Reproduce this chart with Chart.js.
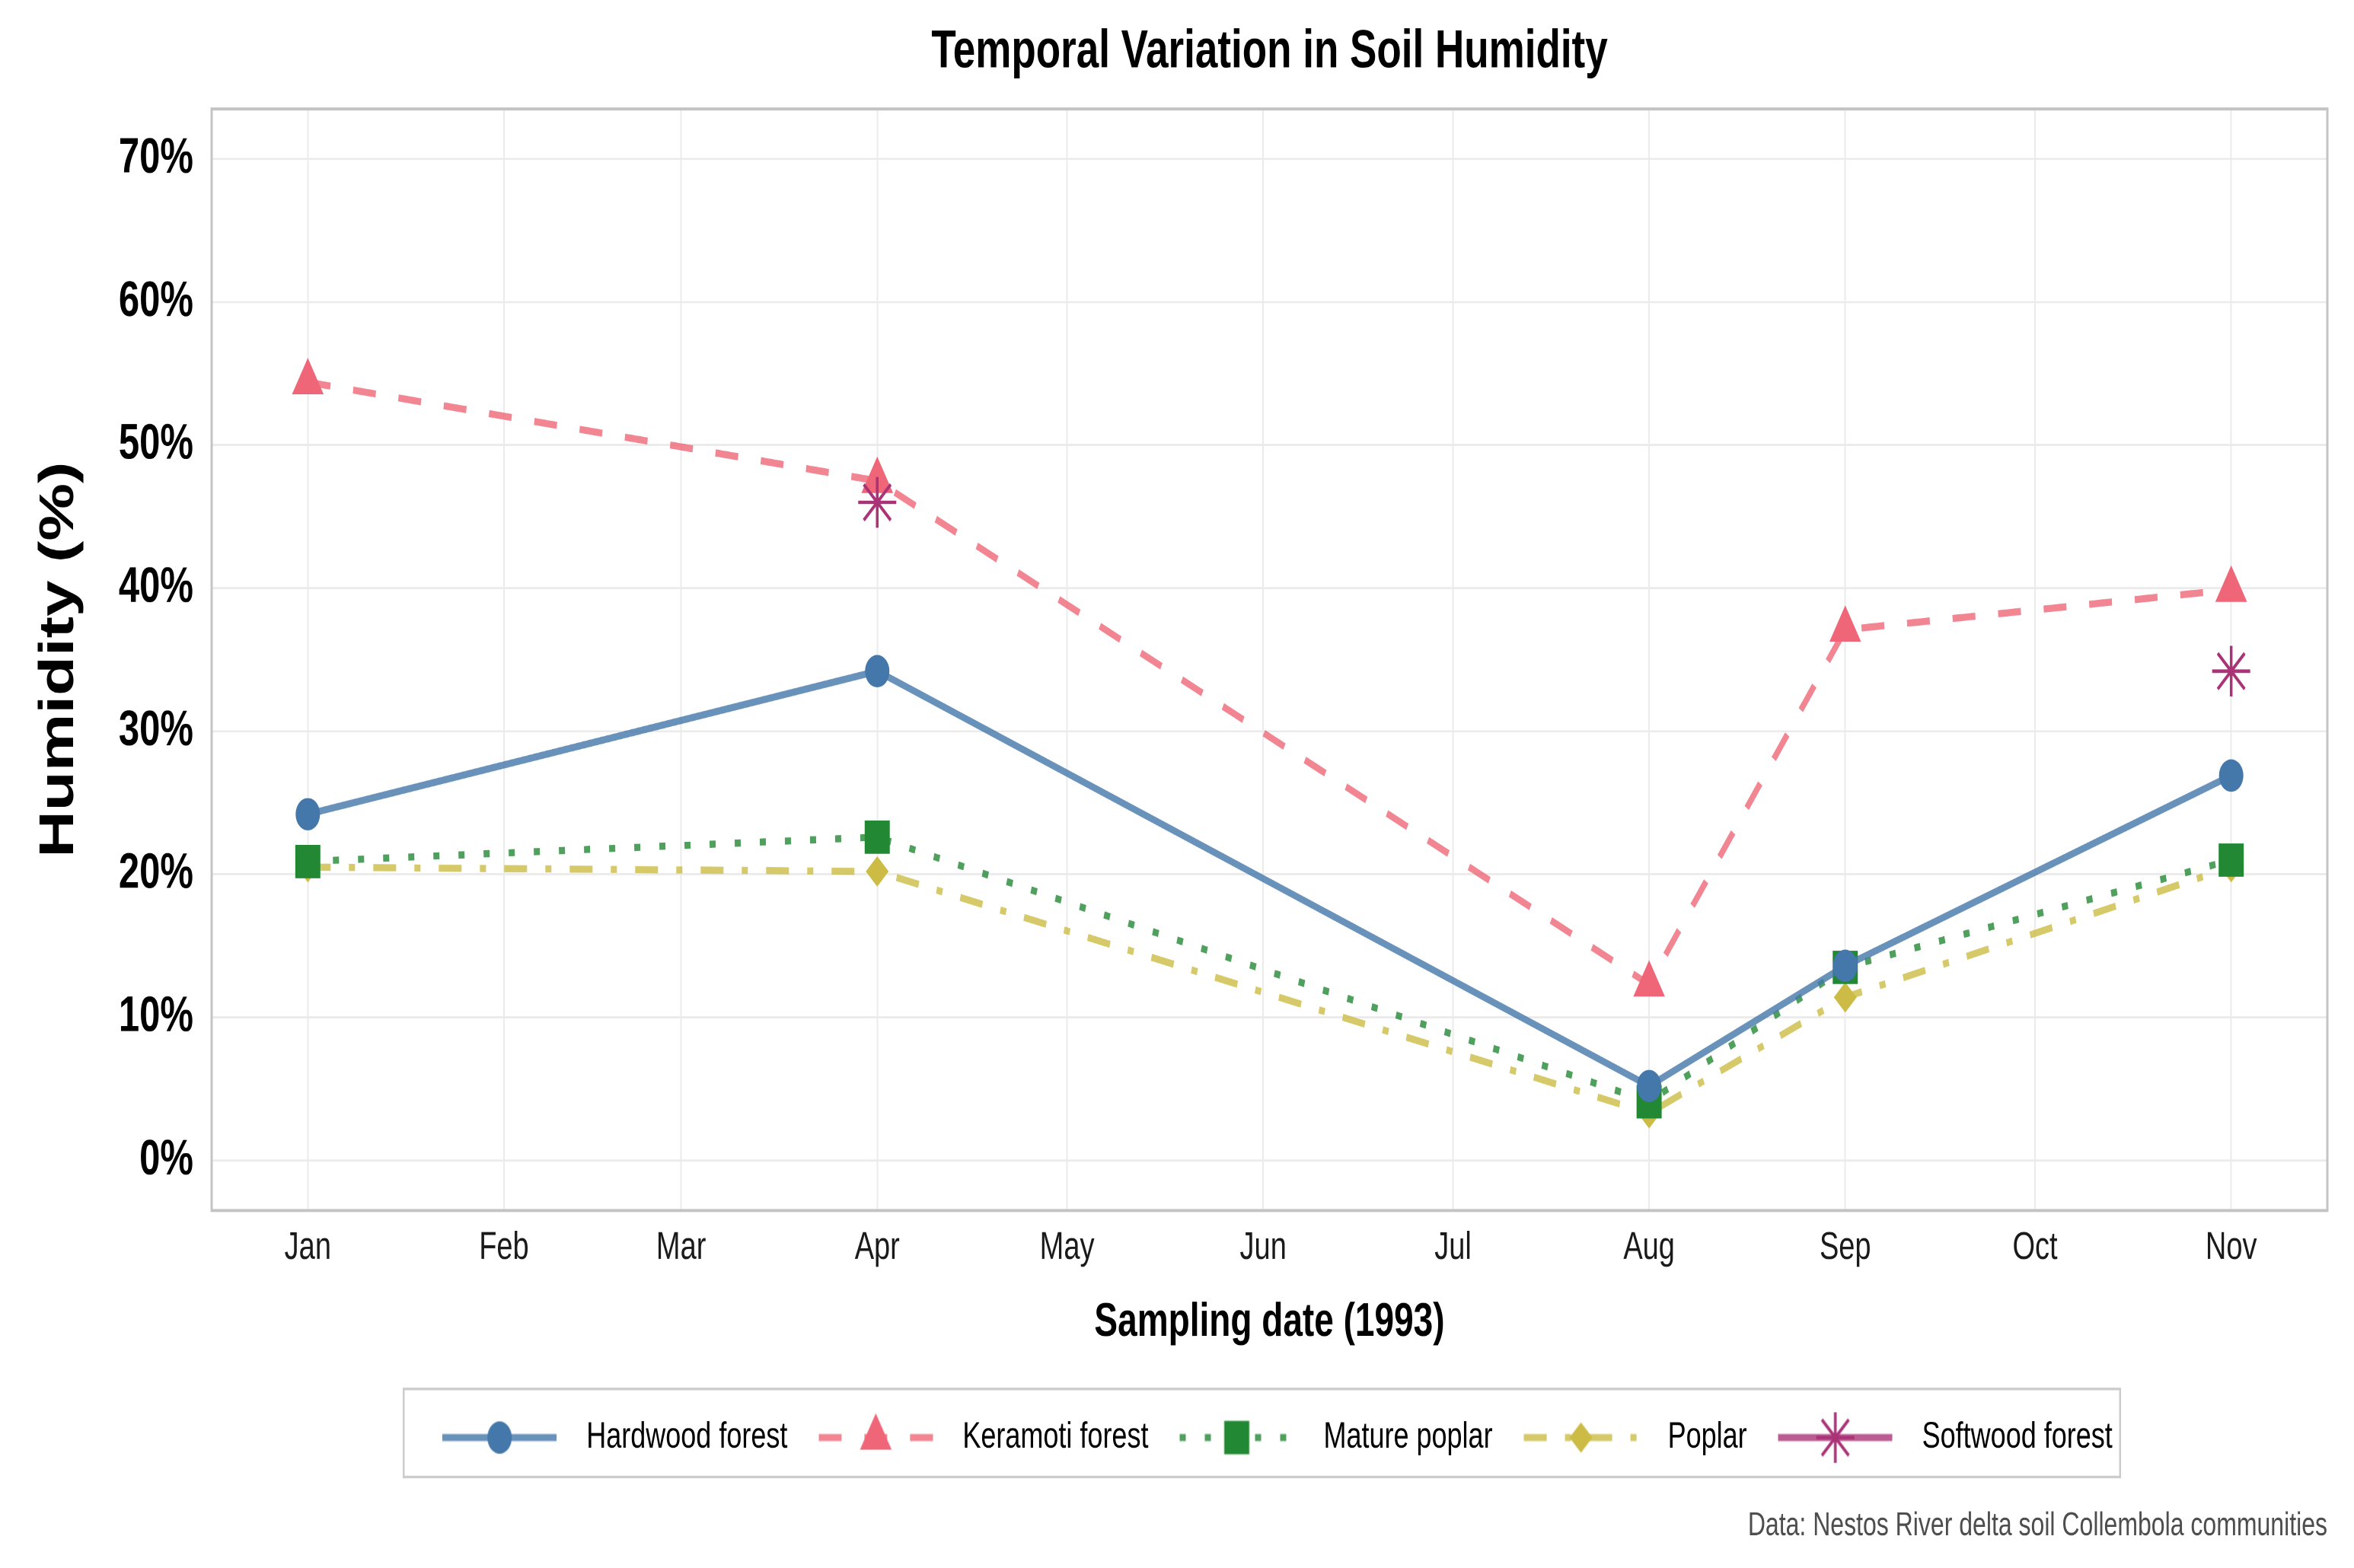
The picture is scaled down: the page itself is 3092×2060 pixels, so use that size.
<!DOCTYPE html>
<html>
<head>
<meta charset="utf-8">
<title>Temporal Variation in Soil Humidity</title>
<script src="https://cdn.jsdelivr.net/npm/chart.js@4.4.1/dist/chart.umd.min.js"></script>
<style>
  html, body { margin: 0; padding: 0; background: #fff; width: 3092px; height: 2060px; overflow: hidden; }
  /* the reference picture is stretched vertically, so the chart is drawn flat and scaled up */
  #wrap { position: absolute; left: 0; top: 0; width: 3092px; height: 1549px; transform: scaleY(1.3299); transform-origin: 0 0; }
</style>
</head>
<body>
<div id="wrap"><canvas id="humidityChart" width="3092" height="1549"></canvas></div>
<script>
// x axis: day of year 1993 (0 = 1 Jan)
const monthDays = [0, 31, 59, 90, 120, 151, 181, 212, 243, 273, 304];
const monthLabels = ['Jan', 'Feb', 'Mar', 'Apr', 'May', 'Jun', 'Jul', 'Aug', 'Sep', 'Oct', 'Nov'];
const sampleDays = [0, 90, 212, 243, 304]; // Jan, Apr, Aug, Sep, Nov
const yTicks = [0, 10, 20, 30, 40, 50, 60, 70];

// humidity (%) per sampling date
const hardwood = [24.2, 34.2, 5.2, 13.6, 26.9];
const keramoti = [54.4, 47.5, 12.3, 37.1, 39.9];
const maturePoplar = [20.9, 22.6, 4.1, 13.5, 21.0];
const poplar = [20.5, 20.2, 3.3, 11.4, 20.5];
const softwood = [null, 46.0, null, null, 34.2];

const FONT = "'Liberation Sans', Arial, sans-serif";
Chart.defaults.font.family = FONT;
Chart.defaults.color = '#1a1a1a';

function points(values) {
  return sampleDays.map((d, i) => ({ x: d, y: values[i] }));
}

function drawMarker(ctx, style, r, color, x, y) {
  ctx.fillStyle = color;
  ctx.strokeStyle = color;
  ctx.beginPath();
  if (style === 'circle') {
    ctx.arc(x, y, r, 0, Math.PI * 2);
    ctx.fill();
  } else if (style === 'triangle') {
    ctx.moveTo(x, y - r);
    ctx.lineTo(x + r * Math.sin(2 * Math.PI / 3), y + r / 2);
    ctx.lineTo(x - r * Math.sin(2 * Math.PI / 3), y + r / 2);
    ctx.closePath();
    ctx.fill();
  } else if (style === 'rect') {
    const s = r * Math.SQRT1_2;
    ctx.rect(x - s, y - s, 2 * s, 2 * s);
    ctx.fill();
  } else if (style === 'rectRot') {
    ctx.moveTo(x - r, y); ctx.lineTo(x, y - r); ctx.lineTo(x + r, y); ctx.lineTo(x, y + r);
    ctx.closePath();
    ctx.fill();
  } else if (style === 'star') {
    ctx.lineWidth = 3.5;
    for (let k = 0; k < 4; k++) {
      const a = k * Math.PI / 4;
      ctx.moveTo(x - Math.sin(a) * r, y - Math.cos(a) * r);
      ctx.lineTo(x + Math.sin(a) * r, y + Math.cos(a) * r);
    }
    ctx.stroke();
  }
}

const series = [
  { label: 'Hardwood forest', values: hardwood, color: '#4477AA', line: 'rgba(68,119,170,0.8)', dash: [], style: 'circle', r: 16, order: 1 },
  { label: 'Keramoti forest', values: keramoti, color: '#EE6677', line: 'rgba(238,102,119,0.8)', dash: [30, 30], style: 'triangle', r: 24, order: 2 },
  { label: 'Mature poplar', values: maturePoplar, color: '#228833', line: 'rgba(34,136,51,0.8)', dash: [8, 25], style: 'rect', r: 23.3, order: 3 },
  { label: 'Poplar', values: poplar, color: '#CCBB44', line: 'rgba(204,187,68,0.8)', dash: [30, 24, 8, 24], style: 'rectRot', r: 15, order: 4 },
  { label: 'Softwood forest', values: softwood, color: '#AA3377', line: 'rgba(170,51,119,0.8)', dash: [], style: 'star', r: 25, order: 0 }
];

// legend symbols: a short piece of line with the marker on top
const legendSymbols = series.map((s) => {
  const c = document.createElement('canvas');
  c.width = 150; c.height = 56;
  const ctx = c.getContext('2d');
  ctx.strokeStyle = s.line;
  ctx.lineWidth = 7;
  ctx.setLineDash(s.dash);
  ctx.beginPath(); ctx.moveTo(0, 28); ctx.lineTo(150, 28); ctx.stroke();
  ctx.setLineDash([]);
  drawMarker(ctx, s.style, s.r, s.color, 75, 28);
  return c;
});

const frame = {
  id: 'frame',
  afterDraw(chart) {
    const { ctx, chartArea: a, legend } = chart;
    ctx.save();
    ctx.strokeStyle = '#c4c4c4';
    ctx.lineWidth = 3;
    ctx.strokeRect(a.left, a.top, a.right - a.left, a.bottom - a.top);
    if (legend && legend.legendHitBoxes.length) {
      const boxes = legend.legendHitBoxes;
      const x0 = Math.min(...boxes.map((b) => b.left)) - 30;
      const x1 = Math.max(...boxes.map((b) => b.left + b.width)) + 10;
      const cy = boxes[0].top + boxes[0].height / 2;
      ctx.strokeStyle = '#cccccc';
      ctx.lineWidth = 2.5;
      ctx.strokeRect(x0, cy - 48, x1 - x0, 87);
    }
    ctx.restore();
  }
};

new Chart(document.getElementById('humidityChart'), {
  type: 'line',
  data: {
    datasets: series.map((s) => ({
      label: s.label,
      data: points(s.values),
      borderColor: s.line,
      borderWidth: 7,
      borderDash: s.dash,
      borderCapStyle: 'butt',
      pointStyle: s.style,
      pointRadius: s.r,
      pointBackgroundColor: s.color,
      pointBorderColor: s.color,
      pointBorderWidth: s.style === 'star' ? 3.5 : 0,
      spanGaps: false,
      order: s.order
    }))
  },
  options: {
    responsive: false,
    devicePixelRatio: 2,
    animation: false,
    events: [],
    layout: { padding: { left: 0, right: 35, top: 0, bottom: 0 } },
    scales: {
      x: {
        type: 'linear',
        min: -15.2,
        max: 319.2,
        afterBuildTicks: (scale) => { scale.ticks = monthDays.map((v) => ({ value: v })); },
        ticks: {
          autoSkip: false,
          maxRotation: 0,
          padding: 14.5,
          color: '#1a1a1a',
          font: { size: 38 },
          callback: (v) => monthLabels[monthDays.indexOf(v)]
        },
        grid: { color: '#ebebeb', lineWidth: 2, drawTicks: false },
        border: { display: false },
        title: {
          display: true,
          text: 'Sampling date (1993)',
          color: '#000',
          font: { size: 46, weight: 'bold' },
          padding: { top: 9, bottom: 47.5 }
        }
      },
      y: {
        min: -3.5,
        max: 73.5,
        afterBuildTicks: (scale) => { scale.ticks = yTicks.map((v) => ({ value: v })); },
        afterFit: (scale) => { scale.width = 278; },
        ticks: {
          padding: 24,
          color: '#000',
          font: { size: 49, weight: 'bold' },
          callback: (v) => v + '%'
        },
        grid: { color: '#ebebeb', lineWidth: 2, drawTicks: false },
        border: { display: false },
        title: {
          display: true,
          text: 'Humidity (%)',
          color: '#000',
          font: { size: 64, weight: 'bold' },
          padding: { top: 40, bottom: 10 }
        }
      }
    },
    plugins: {
      title: {
        display: true,
        text: 'Temporal Variation in Soil Humidity',
        fullSize: false,
        color: '#000',
        font: { size: 53, weight: 'bold' },
        padding: { top: 20, bottom: 24 }
      },
      legend: {
        position: 'bottom',
        fullSize: false,
        labels: {
          usePointStyle: true,
          pointStyleWidth: 192,
          padding: 20,
          color: '#1a1a1a',
          font: { size: 36 },
          generateLabels: (chart) => chart.data.datasets.map((ds, i) => ({
            text: ds.label,
            pointStyle: legendSymbols[i],
            fillStyle: 'transparent',
            strokeStyle: 'transparent',
            lineWidth: 0,
            hidden: false,
            datasetIndex: i
          }))
        }
      },
      subtitle: {
        display: true,
        position: 'bottom',
        align: 'end',
        text: 'Data: Nestos River delta soil Collembola communities',
        color: '#4d4d4d',
        font: { size: 32, weight: 'normal' },
        padding: { top: 40.5, bottom: 22 }
      },
      tooltip: { enabled: false }
    }
  },
  plugins: [frame]
});
</script>
</body>
</html>
